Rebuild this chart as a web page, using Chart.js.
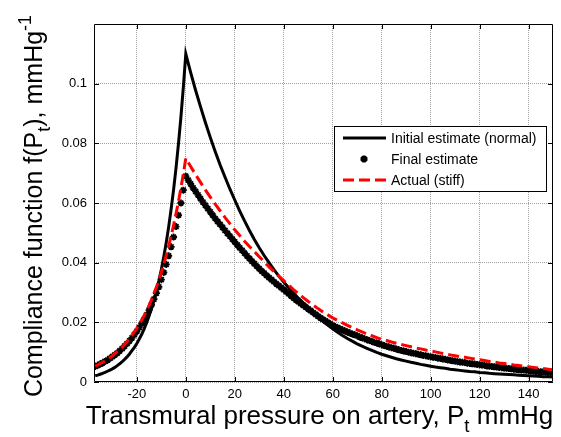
<!DOCTYPE html>
<html>
<head>
<meta charset="utf-8">
<script src="https://cdn.jsdelivr.net/npm/chart.js@4.4.1/dist/chart.umd.min.js"></script>
<style>
  body { margin: 0; background: #fff; }
  #wrap { width: 561px; height: 437px; }
</style>
</head>
<body>
<div id="wrap"><canvas id="chart" width="561" height="437"></canvas></div>
<script>
// transmural pressure samples (mmHg) for the two curves: 1 mmHg below zero, 2 mmHg above
const pressure = [
  -37, -36, -35, -34, -33, -32, -31, -30, -29, -28, -27, -26, -25, -24, -23, -22, -21, -20, -19,
  -18, -17, -16, -15, -14, -13, -12, -11, -10, -9, -8, -7, -6, -5, -4, -3, -2, -1, 0,
  2, 4, 6, 8, 10, 12, 14, 16, 18, 20, 22, 24, 26, 28, 30, 32, 34, 36, 38, 40,
  42, 44, 46, 48, 50, 52, 54, 56, 58, 60, 62, 64, 66, 68, 70, 72, 74, 76, 78, 80,
  82, 84, 86, 88, 90, 92, 94, 96, 98, 100, 102, 104, 106, 108, 110, 112, 114, 116, 118, 120,
  122, 124, 126, 128, 130, 132, 134, 136, 138, 140, 142, 144, 146, 148, 150
];

// the fitted estimate is sampled every 1 mmHg
const pressureFine = [
  -37, -36, -35, -34, -33, -32, -31, -30, -29, -28, -27, -26, -25, -24, -23, -22, -21, -20, -19,
  -18, -17, -16, -15, -14, -13, -12, -11, -10, -9, -8, -7, -6, -5, -4, -3, -2, -1, 0,
  1, 2, 3, 4, 5, 6, 7, 8, 9, 10, 11, 12, 13, 14, 15, 16, 17, 18, 19, 20,
  21, 22, 23, 24, 25, 26, 27, 28, 29, 30, 31, 32, 33, 34, 35, 36, 37, 38, 39, 40,
  41, 42, 43, 44, 45, 46, 47, 48, 49, 50, 51, 52, 53, 54, 55, 56, 57, 58, 59, 60,
  61, 62, 63, 64, 65, 66, 67, 68, 69, 70, 71, 72, 73, 74, 75, 76, 77, 78, 79, 80,
  81, 82, 83, 84, 85, 86, 87, 88, 89, 90, 91, 92, 93, 94, 95, 96, 97, 98, 99, 100,
  101, 102, 103, 104, 105, 106, 107, 108, 109, 110, 111, 112, 113, 114, 115, 116, 117, 118, 119, 120,
  121, 122, 123, 124, 125, 126, 127, 128, 129, 130, 131, 132, 133, 134, 135, 136, 137, 138, 139, 140,
  141, 142, 143, 144, 145, 146, 147, 148, 149, 150
];

// compliance f(Pt), mmHg^-1
const initialNormal = [
  0.0021, 0.0023, 0.0026, 0.0029, 0.0032, 0.0036, 0.0040, 0.0044, 0.0049, 0.0055,
  0.0061, 0.0068, 0.0076, 0.0084, 0.0094, 0.0105, 0.0116, 0.0129, 0.0144, 0.0160,
  0.0178, 0.0199, 0.0221, 0.0246, 0.0274, 0.0305, 0.0339, 0.0377, 0.0420, 0.0467,
  0.0520, 0.0579, 0.0644, 0.0717, 0.0798, 0.0888, 0.0988, 0.1100,
  0.1037, 0.0978, 0.0923, 0.0870, 0.0820, 0.0773, 0.0728, 0.0687, 0.0647, 0.0610,
  0.0574, 0.0540, 0.0508, 0.0478, 0.0450, 0.0424, 0.0400, 0.0377, 0.0355, 0.0335,
  0.0316, 0.0298, 0.0281, 0.0265, 0.0250, 0.0234, 0.0218, 0.0204, 0.0191, 0.0178,
  0.0167, 0.0156, 0.0146, 0.0137, 0.0128, 0.0120, 0.0113, 0.0106, 0.0099, 0.0093,
  0.0088, 0.0083, 0.0078, 0.0074, 0.0070, 0.0066, 0.0063, 0.0059, 0.0056, 0.0053,
  0.0050, 0.0048, 0.0046, 0.0043, 0.0041, 0.0039, 0.0037, 0.0035, 0.0034, 0.0032,
  0.0031, 0.0029, 0.0028, 0.0027, 0.0026, 0.0025, 0.0024, 0.0023, 0.0022, 0.0021,
  0.0020, 0.0019, 0.0018, 0.0018, 0.0017
];

const finalEstimate = [
  0.0052, 0.0056, 0.0060, 0.0064, 0.0069, 0.0073, 0.0079, 0.0085, 0.0091, 0.0097,
  0.0104, 0.0112, 0.0120, 0.0129, 0.0138, 0.0148, 0.0159, 0.0170, 0.0182, 0.0196,
  0.0210, 0.0225, 0.0241, 0.0259, 0.0278, 0.0298, 0.0319, 0.0343, 0.0367, 0.0394,
  0.0423, 0.0453, 0.0486, 0.0521, 0.0559, 0.0600, 0.0643, 0.0690,
  0.0677, 0.0664, 0.0651, 0.0639, 0.0627, 0.0615, 0.0603, 0.0592, 0.0581, 0.0570,
  0.0559, 0.0548, 0.0538, 0.0528, 0.0518, 0.0508, 0.0498, 0.0489, 0.0479, 0.0470,
  0.0460, 0.0450, 0.0441, 0.0432, 0.0423, 0.0414, 0.0405, 0.0397, 0.0388, 0.0380,
  0.0372, 0.0365, 0.0357, 0.0350, 0.0343, 0.0336, 0.0329, 0.0323, 0.0316, 0.0310,
  0.0303, 0.0296, 0.0289, 0.0282, 0.0275, 0.0269, 0.0263, 0.0257, 0.0251, 0.0245,
  0.0239, 0.0233, 0.0227, 0.0221, 0.0215, 0.0210, 0.0205, 0.0200, 0.0195, 0.0190,
  0.0186, 0.0182, 0.0178, 0.0175, 0.0171, 0.0168, 0.0164, 0.0161, 0.0158, 0.0155,
  0.0151, 0.0148, 0.0145, 0.0142, 0.0139, 0.0136, 0.0133, 0.0131, 0.0128, 0.0125,
  0.0122, 0.0120, 0.0117, 0.0115, 0.0113, 0.0111, 0.0108, 0.0106, 0.0104, 0.0102,
  0.0100, 0.0098, 0.0096, 0.0095, 0.0093, 0.0091, 0.0089, 0.0088, 0.0086, 0.0085,
  0.0083, 0.0082, 0.0080, 0.0079, 0.0077, 0.0076, 0.0074, 0.0073, 0.0071, 0.0070,
  0.0068, 0.0067, 0.0066, 0.0065, 0.0063, 0.0062, 0.0061, 0.0060, 0.0059, 0.0058,
  0.0057, 0.0056, 0.0054, 0.0053, 0.0052, 0.0051, 0.0050, 0.0049, 0.0048, 0.0047,
  0.0046, 0.0045, 0.0044, 0.0043, 0.0042, 0.0041, 0.0040, 0.0040, 0.0039, 0.0038,
  0.0037, 0.0036, 0.0035, 0.0035, 0.0034, 0.0034, 0.0033, 0.0032, 0.0031, 0.0031
];

const actualStiff = [
  0.0053, 0.0057, 0.0062, 0.0066, 0.0071, 0.0076, 0.0082, 0.0088, 0.0095, 0.0102,
  0.0109, 0.0117, 0.0126, 0.0135, 0.0145, 0.0156, 0.0168, 0.0180, 0.0193, 0.0208,
  0.0223, 0.0239, 0.0257, 0.0276, 0.0297, 0.0318, 0.0342, 0.0367, 0.0394, 0.0424,
  0.0455, 0.0489, 0.0525, 0.0564, 0.0605, 0.0650, 0.0698, 0.0750,
  0.0722, 0.0695, 0.0669, 0.0644, 0.0620, 0.0596, 0.0574, 0.0552, 0.0531, 0.0510,
  0.0491, 0.0472, 0.0454, 0.0437, 0.0420, 0.0403, 0.0386, 0.0370, 0.0355, 0.0340,
  0.0325, 0.0310, 0.0296, 0.0283, 0.0270, 0.0258, 0.0246, 0.0235, 0.0225, 0.0215,
  0.0206, 0.0198, 0.0190, 0.0182, 0.0175, 0.0168, 0.0161, 0.0155, 0.0149, 0.0143,
  0.0139, 0.0134, 0.0130, 0.0126, 0.0122, 0.0118, 0.0114, 0.0111, 0.0107, 0.0104,
  0.0101, 0.0097, 0.0094, 0.0091, 0.0088, 0.0085, 0.0083, 0.0080, 0.0077, 0.0075,
  0.0072, 0.0069, 0.0067, 0.0064, 0.0062, 0.0060, 0.0057, 0.0055, 0.0053, 0.0051,
  0.0049, 0.0047, 0.0045, 0.0043, 0.0041
];

const xTicks = [-20, 0, 20, 40, 60, 80, 100, 120, 140];
const yTicks = [0, 0.02, 0.04, 0.06, 0.08, 0.1];
const seriesNames = ['Initial estimate (normal)', 'Final estimate', 'Actual (stiff)'];

const FONT = '"Liberation Sans", Arial, sans-serif';

function points(xs, values) {
  return xs.map((p, i) => ({ x: p, y: values[i] }));
}

// full box with inward tick marks on all four sides
const axesBox = {
  id: 'axesBox',
  afterDatasetsDraw(chart) {
    const { ctx, chartArea: a, scales: { x, y } } = chart;
    ctx.save();
    ctx.strokeStyle = '#000';
    ctx.lineWidth = 1;
    ctx.beginPath();
    ctx.rect(a.left + 0.5, a.top + 0.5, a.right - a.left - 1, a.bottom - a.top - 1);
    xTicks.forEach(v => {
      const px = Math.round(x.getPixelForValue(v)) + 0.5;
      ctx.moveTo(px, a.bottom); ctx.lineTo(px, a.bottom - 5);
      ctx.moveTo(px, a.top); ctx.lineTo(px, a.top + 5);
    });
    yTicks.forEach(v => {
      const py = Math.round(y.getPixelForValue(v)) + 0.5;
      ctx.moveTo(a.left, py); ctx.lineTo(a.left + 5, py);
      ctx.moveTo(a.right, py); ctx.lineTo(a.right - 5, py);
    });
    ctx.stroke();
    ctx.restore();
  }
};

// draw a run of text pieces; each piece may be shifted up/down and scaled
function drawPieces(ctx, pieces, x, y, size) {
  let cx = x;
  pieces.forEach(p => {
    const s = size * (p.scale || 1);
    ctx.font = s + 'px ' + FONT;
    ctx.fillText(p.text, cx, y + (p.dy || 0));
    cx += ctx.measureText(p.text).width;
  });
}

function piecesWidth(ctx, pieces, size) {
  return pieces.reduce((w, p) => {
    ctx.font = size * (p.scale || 1) + 'px ' + FONT;
    return w + ctx.measureText(p.text).width;
  }, 0);
}

// axis titles with sub/superscripts
const axisTitles = {
  id: 'axisTitles',
  afterDraw(chart) {
    const { ctx, chartArea: a } = chart;
    ctx.save();
    ctx.fillStyle = '#000';
    ctx.textBaseline = 'alphabetic';
    ctx.textAlign = 'left';

    const xt = [
      { text: 'Transmural pressure on artery, P' },
      { text: 't', scale: 0.72, dy: 8 },
      { text: ' mmHg' }
    ];
    const xw = piecesWidth(ctx, xt, 26);
    drawPieces(ctx, xt, (a.left + a.right) / 2 - xw / 2 - 4, 424, 26);

    const yt = [
      { text: 'Compliance function f(P' },
      { text: 't', scale: 0.72, dy: 8 },
      { text: '), mmHg' },
      { text: '-1', scale: 0.72, dy: -11 }
    ];
    const yw = piecesWidth(ctx, yt, 25);
    ctx.translate(42, (a.top + a.bottom) / 2 + 3);
    ctx.rotate(-Math.PI / 2);
    drawPieces(ctx, yt, -yw / 2, 0, 25);
    ctx.restore();
  }
};

// boxed legend inside the upper right of the plot
const boxLegend = {
  id: 'boxLegend',
  afterDraw(chart) {
    const { ctx, chartArea: a } = chart;
    const w = 212, h = 65;
    const left = Math.round(a.right - 7 - w), top = Math.round(a.top + 102);
    ctx.save();
    ctx.fillStyle = '#fff';
    ctx.fillRect(left, top, w, h);
    ctx.strokeStyle = '#000';
    ctx.lineWidth = 1;
    ctx.strokeRect(left + 0.5, top + 0.5, w, h);
    ctx.font = '14px ' + FONT;
    ctx.textBaseline = 'middle';
    chart.data.datasets.forEach((ds, i) => {
      const yy = top + 12 + i * 21;
      if (ds.showLine === false) {
        ctx.strokeStyle = ds.pointBorderColor;
        ctx.fillStyle = ds.pointBorderColor;
        Chart.helpers.drawPoint(ctx, {
          pointStyle: ds.pointStyle, radius: ds.pointRadius,
          borderWidth: ds.pointBorderWidth, rotation: 0
        }, left + 30, yy);
      } else {
        ctx.strokeStyle = ds.borderColor;
        ctx.lineWidth = ds.borderWidth;
        ctx.setLineDash(ds.borderDash || []);
        ctx.beginPath();
        ctx.moveTo(left + 9, yy);
        ctx.lineTo(left + 52, yy);
        ctx.stroke();
        ctx.setLineDash([]);
      }
      ctx.fillStyle = '#000';
      ctx.fillText(ds.label, left + 57, yy + 1);
    });
    ctx.restore();
  }
};

const tickFont = { family: FONT, size: 13 };

new Chart(document.getElementById('chart').getContext('2d'), {
  type: 'line',
  data: {
    datasets: [
      {
        label: seriesNames[0],
        data: points(pressure, initialNormal),
        borderColor: '#000',
        borderWidth: 3,
        pointRadius: 0,
        tension: 0,
        order: 3
      },
      {
        label: seriesNames[1],
        data: points(pressureFine, finalEstimate),
        showLine: false,
        pointStyle: 'star',
        pointRadius: 3.5,
        pointBorderWidth: 1.8,
        pointBorderColor: '#000',
        pointBackgroundColor: '#000',
        order: 2
      },
      {
        label: seriesNames[2],
        data: points(pressure, actualStiff),
        borderColor: '#ff0000',
        borderWidth: 3,
        borderDash: [11, 5],
        pointRadius: 0,
        tension: 0,
        order: 1
      }
    ]
  },
  options: {
    responsive: false,
    animation: false,
    layout: { padding: { left: 0, right: 8, top: 24, bottom: 0 } },
    plugins: {
      legend: { display: false },
      tooltip: { enabled: false }
    },
    scales: {
      x: {
        type: 'linear',
        min: -37.5,
        max: 150,
        afterBuildTicks: s => { s.ticks = xTicks.map(v => ({ value: v })); },
        afterFit: s => { s.height = 55; },
        grid: { color: '#a0a0a0', lineWidth: 1, drawTicks: false },
        border: { display: false, dash: [1, 1] },
        ticks: { color: '#000', font: tickFont, padding: 5, maxRotation: 0, callback: v => String(v) }
      },
      y: {
        type: 'linear',
        min: 0,
        max: 0.12,
        afterBuildTicks: s => { s.ticks = yTicks.map(v => ({ value: v })); },
        afterFit: s => { s.width = 94; },
        grid: { color: '#a0a0a0', lineWidth: 1, drawTicks: false },
        border: { display: false, dash: [1, 1] },
        ticks: { color: '#000', font: tickFont, padding: 7, callback: v => String(v) }
      }
    }
  },
  plugins: [axesBox, axisTitles, boxLegend]
});
</script>
</body>
</html>
